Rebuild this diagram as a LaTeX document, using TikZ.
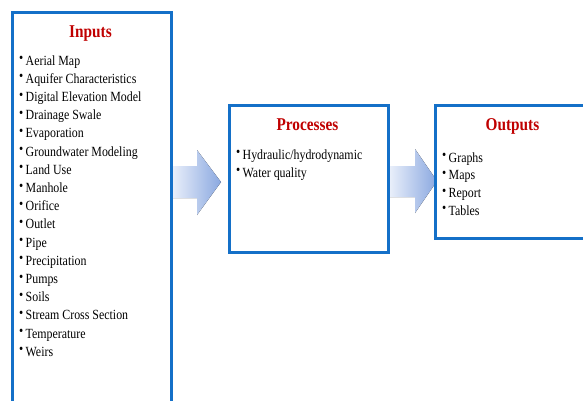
\documentclass[tikz,border=0pt]{standalone}
\usepackage{fontspec}
\setmainfont{Liberation Serif}[FakeStretch=0.85]
\definecolor{boxblue}{RGB}{20,112,200}
\definecolor{titlered}{RGB}{192,0,0}
\definecolor{arrlight}{RGB}{236,241,251}
\definecolor{arrdark}{RGB}{138,168,224}
\newcommand\bul{\makebox[6.5pt][l]{\raisebox{2.4pt}{\fontsize{14}{14}\selectfont\textbullet}}}
\tikzset{
  box/.style={draw=boxblue, line width=3pt, fill=white, rectangle, anchor=north west, inner sep=0pt},
  boxtitle/.style={anchor=base, inner sep=0pt, text=titlered, font=\fontsize{18}{18}\selectfont\bfseries},
  item/.style={anchor=base west, inner sep=0pt, font=\fontsize{14}{14}\selectfont},
  blockarrow/.style={shading=axis, left color=arrlight, right color=arrdark, draw=none}
}
\begin{document}
\begin{tikzpicture}[x=1pt,y=-1pt]
\useasboundingbox (0,0) rectangle (583,400);
\clip (0,0) rectangle (583,400);
% block arrows
\fill[blockarrow] (171,166) -- (197,166) -- (197,150) -- (221,182) -- (197,215) -- (197,198) -- (171,198) -- cycle;
\fill[blockarrow] (388,166) -- (415,166) -- (415,149) -- (437,181) -- (415,213) -- (415,197) -- (388,197) -- cycle;
% boxes
\node[box, minimum width=159pt, minimum height=420pt] (in) at (11,11) {};
\node[box, minimum width=159pt, minimum height=147pt] (proc) at (228,104) {};
\node[box, minimum width=158pt, minimum height=133pt] (out) at (434,104) {};
% titles
\node[boxtitle] (tin) at (90.5,37) {Inputs};
\node[boxtitle] (tproc) at (307.5,130) {Processes};
\node[boxtitle] (tout) at (512.5,130) {Outputs};
% inputs list
\foreach \t [count=\i from 0] in {Aerial Map,Aquifer Characteristics,Digital Elevation Model,Drainage Swale,Evaporation,Groundwater Modeling,Land Use,Manhole,Orifice,Outlet,Pipe,Precipitation,Pumps,Soils,Stream Cross Section,Temperature,Weirs}
  \node[item] (in\i) at (19,65+18.2*\i) {\bul\t};
% processes list
\node[item] (p0) at (236,159) {\bul Hydraulic/hydrodynamic};
\node[item] (p1) at (236,177) {\bul Water quality};
% outputs list
\node[item] (o0) at (442,162) {\bul Graphs};
\node[item] (o1) at (442,179.7) {\bul Maps};
\node[item] (o2) at (442,197.4) {\bul Report};
\node[item] (o3) at (442,215) {\bul Tables};
\end{tikzpicture}
\end{document}
